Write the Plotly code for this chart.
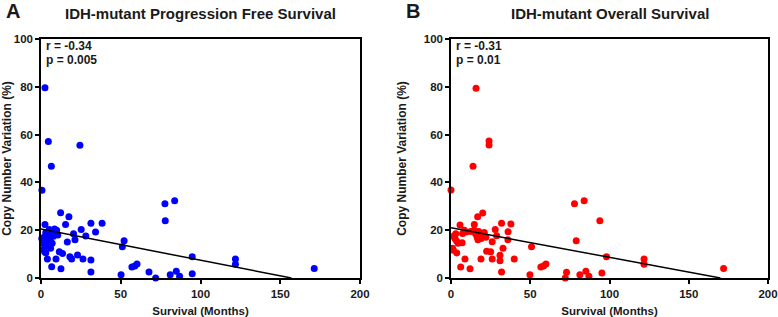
import plotly.graph_objects as go

# ---- Data ----
pfs_months = [2.5, 4.6, 24.4, 6.5, 0.6, 77.7, 83.8, 77.9, 12.3, 17.5, 15.4, 2.5, 31.3, 38.3,
              34.2, 25.2, 20.4, 28.1, 21.3, 16.5, 52.1, 51.0, 9.8, 0.5, 1.2, 2.0, 3.0, 3.5,
              4.2, 4.5, 5.2, 5.5, 6.5, 7.0, 7.8, 8.5, 10.5, 1.8, 3.0, 4.0, 11.5, 13.5, 22.9,
              18.1, 9.4, 19.2, 26.3, 31.3, 6.7, 12.5, 31.3, 50.2, 57.0, 58.8, 60.2, 67.7,
              71.9, 81.0, 84.8, 86.9, 94.8, 94.8, 121.9, 121.9, 171.3, 6.0, 2.2]
pfs_cnv = [79.6, 57.1, 55.5, 46.8, 36.7, 31.1, 32.3, 24.0, 27.3, 25.6, 22.4, 22.4, 22.9, 22.9,
           19.2, 20.3, 18.5, 17.6, 16.0, 15.1, 15.6, 13.1, 20.0, 16.5, 14.5, 17.2, 19.0, 15.0,
           18.0, 13.5, 20.3, 16.0, 18.8, 14.5, 17.5, 20.5, 18.0, 12.0, 10.5, 8.0, 11.0, 10.3,
           9.6, 8.9, 7.9, 7.9, 7.9, 7.5, 4.7, 3.9, 2.5, 1.4, 4.6, 5.0, 5.9, 2.5,
           0.0, 1.4, 2.8, 0.7, 8.9, 1.8, 7.9, 5.8, 4.0, 12.5, 11.0]

os_months = [15.8, 24.0, 24.0, 13.9, 0.0, 77.9, 84.0, 93.9, 20.0, 16.8, 14.7, 5.7, 31.9, 37.8,
             36.0, 27.9, 35.9, 28.8, 26.0, 79.0, 50.8, 32.8, 98.1, 1.5, 3.6, 22.5, 25.0, 18.9,
             26.0, 30.9, 30.9, 39.9, 8.8, 6.1, 12.0, 31.9, 49.8, 56.7, 58.4, 59.9, 72.9, 72.1,
             81.3, 85.1, 87.0, 95.2, 121.8, 121.8, 172.0, 1.5, 2.5, 3.5, 4.5, 3.0, 7.3, 8.4,
             9.5, 7.0, 14.5, 15.5, 16.5, 17.5, 18.0, 19.0, 20.0, 21.0, 22.0, 17.0, 12.5, 1.0]
os_cnv = [79.4, 57.3, 55.6, 46.8, 36.8, 31.1, 32.3, 24.0, 27.2, 25.6, 22.4, 22.2, 22.9, 22.6,
          19.4, 20.3, 16.0, 17.7, 15.2, 15.6, 13.1, 12.4, 8.9, 11.6, 10.5, 11.2, 11.0, 7.9,
          7.9, 9.5, 7.2, 7.9, 7.9, 4.6, 3.9, 2.5, 1.4, 4.6, 5.0, 5.9, 2.4, 0.0,
          1.4, 2.8, 0.7, 2.1, 7.9, 5.8, 4.0, 17.5, 16.5, 15.5, 14.5, 18.5, 18.6, 20.0,
          19.2, 14.8, 20.0, 18.5, 17.0, 19.5, 18.0, 16.5, 17.8, 19.0, 17.0, 16.0, 19.5, 12.5]

pfs_fit_x = [0, 157]
pfs_fit_y = [20.5, 0]
os_fit_x = [0, 170]
os_fit_y = [21.0, 0]

x_ticks = [0, 50, 100, 150, 200]
y_ticks = [0, 20, 40, 60, 80, 100]

panel_titles = ["IDH-mutant Progression Free Survival", "IDH-mutant Overall Survival"]
panel_letters = ["A", "B"]
stats = [("r = -0.34", "p = 0.005"), ("r = -0.31", "p = 0.01")]

FONT = "Liberation Sans, Arial, sans-serif"
TXT = "#1a1a1a"

fig = go.Figure()

fig.add_trace(go.Scatter(x=pfs_months, y=pfs_cnv, mode="markers", xaxis="x", yaxis="y",
                         marker=dict(color="#0000FF", size=7), cliponaxis=False, showlegend=False))
fig.add_trace(go.Scatter(x=pfs_fit_x, y=pfs_fit_y, mode="lines", xaxis="x", yaxis="y",
                         line=dict(color="black", width=1.5), showlegend=False))
fig.add_trace(go.Scatter(x=os_months, y=os_cnv, mode="markers", xaxis="x2", yaxis="y2",
                         marker=dict(color="#FF0000", size=7), cliponaxis=False, showlegend=False))
fig.add_trace(go.Scatter(x=os_fit_x, y=os_fit_y, mode="lines", xaxis="x2", yaxis="y2",
                         line=dict(color="black", width=1.5), showlegend=False))

ydom = [39 / 317, 278 / 317]
xdoms = [[41 / 778, 360 / 778], [451 / 778, 768 / 778]]

def xaxis_cfg(dom, anchor):
    return dict(domain=dom, anchor=anchor, range=[0, 200], tickvals=x_ticks, automargin=False,
                showgrid=False, zeroline=False, showline=True, linecolor="black", linewidth=1.5,
                mirror=True, ticks="outside", ticklen=4, tickwidth=1.5, tickcolor="black",
                tickfont=dict(family=FONT, size=11.5, color=TXT, weight="bold"),
                title=dict(text="Survival (Months)",
                           font=dict(family=FONT, size=11.5, color=TXT, weight="bold")))

def yaxis_cfg(anchor):
    return dict(domain=ydom, anchor=anchor, range=[0, 100], tickvals=y_ticks, automargin=False,
                showgrid=False, zeroline=False, showline=True, linecolor="black", linewidth=1.5,
                mirror=True, ticks="outside", ticklen=4, tickwidth=1.5, tickcolor="black",
                tickfont=dict(family=FONT, size=11.5, color=TXT, weight="bold"),
                title=dict(text="Copy Number Variation (%)",
                           font=dict(family=FONT, size=12, color=TXT, weight="bold")))

fig.update_layout(
    width=778, height=317, margin=dict(l=0, r=0, t=0, b=0, autoexpand=False),
    paper_bgcolor="white", plot_bgcolor="white", hovermode=False,
    xaxis=xaxis_cfg(xdoms[0], "y"), yaxis=yaxis_cfg("x"),
    xaxis2=xaxis_cfg(xdoms[1], "y2"), yaxis2=yaxis_cfg("x2"),
)

annotations = []
centers = [(xdoms[0][0] + xdoms[0][1]) / 2, (xdoms[1][0] + xdoms[1][1]) / 2]
letter_x = [4 / 778, 404 / 778]
for i in range(2):
    annotations.append(dict(text=panel_titles[i], xref="paper", yref="paper", x=centers[i],
                            y=1 - 14 / 317, xanchor="center", yanchor="middle", showarrow=False,
                            font=dict(family=FONT, size=15, color=TXT, weight="bold")))
    annotations.append(dict(text=panel_letters[i], xref="paper", yref="paper", x=letter_x[i],
                            y=1 - 11 / 317, xanchor="left", yanchor="middle", showarrow=False,
                            font=dict(family=FONT, size=20, color=TXT, weight="bold")))
    xr = "x domain" if i == 0 else "x2 domain"
    yr = "y domain" if i == 0 else "y2 domain"
    annotations.append(dict(text=stats[i][0], xref=xr, yref=yr, x=0.008, y=1 - 7 / 239,
                            xanchor="left", yanchor="middle", showarrow=False,
                            font=dict(family=FONT, size=12, color=TXT, weight="bold")))
    annotations.append(dict(text=stats[i][1], xref=xr, yref=yr, x=0.008, y=1 - 21 / 239,
                            xanchor="left", yanchor="middle", showarrow=False,
                            font=dict(family=FONT, size=12, color=TXT, weight="bold")))
fig.update_layout(annotations=annotations)

fig.write_html("out.html", config={"displayModeBar": False},
               post_script="document.body.style.margin='0';")
